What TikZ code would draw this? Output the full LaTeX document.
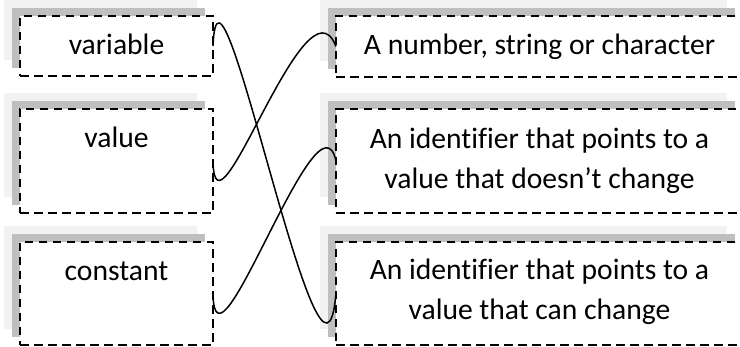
\documentclass[tikz,border=0pt]{standalone}
\usepackage{fontspec}
\setmainfont{Carlito}[Ligatures=NoCommon]
\usetikzlibrary{calc}
\definecolor{shadelight}{HTML}{F2F2F2}
\definecolor{shadedark}{HTML}{BFBFBF}
\tikzset{
  card/.style={
    anchor=north west, inner sep=0pt, outer sep=0pt,
    draw=black, fill=white, line width=2pt,
    dash pattern=on 8.5pt off 5.5pt,
    preaction={draw=none, fill=shadelight, transform canvas={shift={(-16pt,16pt)}}},
    preaction={draw=none, fill=shadedark, transform canvas={shift={(-8pt,8pt)}}}
  },
  leftcard/.style={card, minimum width=193pt},
  rightcard/.style={card, minimum width=407pt},
  caption/.style={anchor=base, inner sep=0pt, align=center,
    font=\fontsize{29.6}{40}\selectfont},
  link/.style={draw=black, line width=1.5pt}
}
\begin{document}
\begin{tikzpicture}[x=1pt,y=-1pt]
\useasboundingbox (0,0) rectangle (740,347);

% terms on the left
\node[leftcard, minimum height=60pt]  (var)   at (20,16)  {};
\node[leftcard, minimum height=104pt] (val)   at (20,109) {};
\node[leftcard, minimum height=103pt] (const) at (20,242) {};

% definitions on the right
\node[rightcard, minimum height=61pt]  (defA) at (336,16)  {};
\node[rightcard, minimum height=104pt] (defB) at (336,109) {};
\node[rightcard, minimum height=103pt] (defC) at (336,242) {};

% captions (the base anchor of a two-line caption sits on its last line)
\node[caption] (tvar)   at ($(var.north)+(0,39)$)   {variable};
\node[caption] (tval)   at ($(val.north)+(0,39)$)   {value};
\node[caption] (tconst) at ($(const.north)+(0,39)$) {constant};
\node[caption] (tdefA)  at ($(defA.north)+(0,39)$)  {A number, string or character};
\node[caption] (tdefB)  at ($(defB.north)+(0,80)$)  {An identifier that points to a\\value that doesn’t change};
\node[caption] (tdefC)  at ($(defC.north)+(0,78)$)  {An identifier that points to a\\value that can change};

% matching curves
\draw[link] (var.east) .. controls ($(var.east)+(6,-140)$) and ($(defC.west)+(-14,160)$) .. (defC.west);
\draw[link] (val.east) .. controls ($(val.east)+(2,95)$) and ($(defA.west)+(-30,-78)$) .. (defA.west);
\draw[link] (const.east) .. controls ($(const.east)+(2,100)$) and ($(defB.west)+(-18,-80)$) .. (defB.west);
\end{tikzpicture}
\end{document}
